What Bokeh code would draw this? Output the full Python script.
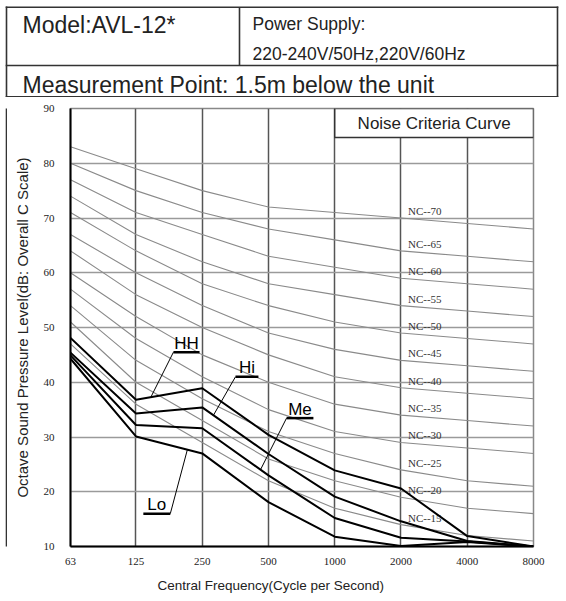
import numpy as np
from bokeh.plotting import figure
from bokeh.layouts import column, row
from bokeh.models import Range1d, FixedTicker, Title
from bokeh.embed import file_html
from bokeh.resources import INLINE
from bokeh.core.properties import value

# ---------------- data ----------------
freqs = [63, 125, 250, 500, 1000, 2000, 4000, 8000]
freq_labels = ["63", "125", "250", "500", "1000", "2000", "4000", "8000"]
db_ticks = [10, 20, 30, 40, 50, 60, 70, 80, 90]

nc_names = ["NC--15", "NC--20", "NC--25", "NC--30", "NC--35", "NC--40",
            "NC--45", "NC--50", "NC--55", "NC--60", "NC--65", "NC--70"]
nc15 = [47, 36, 29, 22, 17, 14, 12, 11]
nc20 = [51, 40, 33, 26, 22, 19, 17, 16]
nc25 = [54, 44, 37, 31, 27, 24, 22, 21]
nc30 = [57, 48, 41, 35, 31, 29, 28, 27]
nc35 = [60, 52, 45, 40, 36, 34, 33, 32]
nc40 = [64, 56, 50, 45, 41, 39, 38, 37]
nc45 = [67, 60, 54, 49, 46, 44, 43, 42]
nc50 = [71, 64, 58, 54, 51, 49, 48, 47]
nc55 = [74, 67, 62, 58, 56, 54, 53, 52]
nc60 = [77, 71, 67, 63, 61, 59, 58, 57]
nc65 = [80, 75, 71, 68, 66, 64, 63, 62]
nc70 = [83, 79, 75, 72, 71, 70, 69, 68]
nc_curves = [nc15, nc20, nc25, nc30, nc35, nc40, nc45, nc50, nc55, nc60, nc65, nc70]

hh = [48.1, 36.8, 38.9, 30.4, 23.9, 20.6, 11.9, 10.0]
hi = [45.4, 34.3, 35.4, 26.9, 19.1, 14.6, 11.0, 10.0]
me = [44.9, 32.2, 31.6, 23.0, 15.2, 11.6, 10.9, 10.0]
lo = [44.3, 30.1, 27.0, 18.1, 11.8, 10.1, 10.8, 10.0]

model_text = "Model:AVL-12*"
power_text = ["Power Supply:", "220-240V/50Hz,220V/60Hz"]
point_text = "Measurement Point: 1.5m below the unit"
x_title = "Central Frequency(Cycle per Second)"
y_title = "Octave Sound Pressure Level(dB: Overall C Scale)"

LC = "#333333"
SANS = "Liberation Sans"


def bare(fig):
    fig.xaxis.visible = False
    fig.yaxis.visible = False
    fig.xgrid.visible = False
    fig.ygrid.visible = False
    fig.outline_line_color = None
    fig.background_fill_color = "white"
    fig.border_fill_color = "white"


# ---------------- header (page pixel coordinates) ----------------
hdr = figure(width=566, height=97, x_range=Range1d(0, 566), y_range=Range1d(97, 0),
             output_backend="svg", toolbar_location=None, min_border=0)
bare(hdr)
hdr.segment(x0=[5.2, 5.2, 5.2, 6, 557, 239],
            y0=[6.7, 65, 96.4, 6, 6, 6.7],
            x1=[557.8, 557.8, 557.8, 6, 557, 239],
            y1=[6.7, 65, 96.4, 97, 97, 65],
            line_color=LC, line_width=1.6)
hdr.text(x=[22, 252, 252, 22],
         y=[24.2, 23.8, 53.8, 84.0],
         text=[model_text, power_text[0], power_text[1], point_text],
         text_font_size=["23px", "17.5px", "17.5px", "23px"],
         text_font=value(SANS), text_color="#222222",
         text_align="left", text_baseline="middle")

# ---------------- left table border strip ----------------
strip = figure(width=7, height=504, x_range=Range1d(0, 7), y_range=Range1d(0, 1),
               output_backend="svg", toolbar_location=None, min_border=0)
bare(strip)
strip.segment(x0=[6], y0=[-0.1], x1=[6], y1=[1.1], line_color=LC, line_width=1.6)

# ---------------- chart ----------------
p = figure(width=559, height=504, x_axis_type="log",
           x_range=Range1d(63, 8000), y_range=Range1d(10, 90),
           output_backend="svg", toolbar_location=None,
           min_border_left=63, min_border_right=33,
           min_border_top=11, min_border_bottom=53)
p.background_fill_color = "white"
p.border_fill_color = "white"
p.outline_line_color = "#888888"
p.outline_line_width = 1.5

p.xaxis.ticker = FixedTicker(ticks=freqs, minor_ticks=[])
p.xaxis.major_label_overrides = {f: s for f, s in zip(freqs, freq_labels)}
p.yaxis.ticker = FixedTicker(ticks=db_ticks, minor_ticks=[])
for ax in (p.xaxis, p.yaxis):
    ax.axis_line_color = "black"
    ax.axis_line_width = 2
    ax.major_tick_line_color = None
    ax.minor_tick_line_color = None
    ax.major_label_text_font = "Liberation Serif"
    ax.major_label_text_font_size = "11px"
    ax.major_label_text_color = "#222222"
    ax.axis_label_text_font = SANS
    ax.axis_label_text_font_style = "normal"
    ax.axis_label_text_color = "#222222"
p.xaxis.major_label_standoff = 5
p.yaxis.major_label_standoff = 10
p.yaxis.axis_label = y_title
p.yaxis.axis_label_text_font_size = "15px"
p.yaxis.axis_label_standoff = 10

# x-axis title, placed below the axis and shifted left as in the original
p.add_layout(Title(text=x_title, align="left", offset=87, standoff=17,
                   text_font=SANS, text_font_size="13.5px",
                   text_font_style="normal", text_color="#222222"), "below")

p.xgrid.grid_line_color = "#555555"
p.xgrid.grid_line_width = 1.5
p.ygrid.grid_line_color = "#9a9a9a"
p.ygrid.grid_line_width = 1.5

# NC curves
for c in nc_curves:
    p.line(freqs, c, line_color="#8a8a8a", line_width=1.1)
nc_at_2000 = [c[freqs.index(2000)] for c in nc_curves]
p.text(x=[2000] * len(nc_names), y=nc_at_2000, text=nc_names,
       x_offset=7, y_offset=-7,
       text_font=value("Liberation Serif"), text_font_size="11px",
       text_color="#333333", text_align="left", text_baseline="middle")

# Noise Criteria Curve title box
p.quad(left=[1000], right=[8000], top=[90], bottom=[84.7],
       fill_color="white", line_color=LC, line_width=1.5)
p.text(x=[np.sqrt(1000 * 8000)], y=[87.35], text=["Noise Criteria Curve"],
       text_font=value(SANS), text_font_size="17px",
       text_color="#222222", text_align="center", text_baseline="middle")

# measured curves
for c in (hh, hi, me, lo):
    p.line(freqs, c, line_color="black", line_width=2)


def at(curve, f):
    return float(np.interp(np.log(f), np.log(freqs), curve))


# callouts: name, curve, underline from/to (Hz), underline level (dB), target (Hz), side
callouts = [
    ("HH", hh, 185, 243, 45.5, 146, "left"),
    ("Hi", hi, 354, 450, 41.0, 281, "left"),
    ("Me", me, 604, 800, 33.45, 460, "left"),
    ("Lo", lo, 135, 179, 16.0, 214, "right"),
]
for name, curve, u0, u1, uy, tf, side in callouts:
    p.line([u0, u1], [uy, uy], line_color="black", line_width=2.5)
    sx = u0 if side == "left" else u1
    p.line([sx, tf], [uy, at(curve, tf)], line_color="black", line_width=1)
    p.text(x=[np.sqrt(u0 * u1)], y=[uy], text=[name], y_offset=-9,
           text_font=value(SANS), text_font_size="17px",
           text_color="black", text_align="center", text_baseline="middle")

layout = column(hdr, row(strip, p, spacing=0), spacing=0)
open("out.html", "w").write(file_html(layout, INLINE))
